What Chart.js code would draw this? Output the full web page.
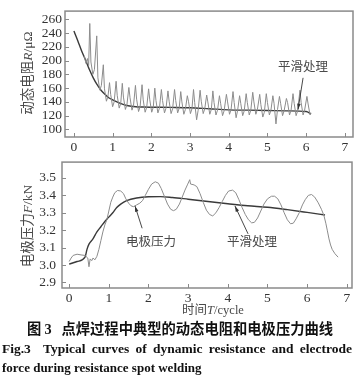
<!DOCTYPE html>
<html>
<head>
<meta charset="utf-8">
<script src="https://cdn.jsdelivr.net/npm/chart.js@4"></script>
<style>
body { margin:0; background:#fff; width:364px; height:383px; position:relative; overflow:hidden; }
canvas { position:absolute; left:0; }
.t { position:absolute; white-space:nowrap; color:#4a4a4a; font-family:"Noto Sans CJK SC"; line-height:1; }
.c { transform:translate(-50%,-50%); }
.rot { transform:translate(-50%,-50%) rotate(-90deg); }
.it { font-family:"Liberation Serif"; font-style:italic; }
.sf { font-family:"Liberation Serif"; }
.cap { position:absolute; white-space:nowrap; color:#111; line-height:1; font-weight:bold; }
</style>
</head>
<body>
<canvas id="resChart" width="364" height="158" style="top:0"></canvas>
<canvas id="forceChart" width="364" height="158" style="top:148px"></canvas>

<div class="t rot" style="left:27px;top:73px;font-size:13.5px">动态电阻<span class="it">R</span><span class="sf">/μΩ</span></div>
<div class="t rot" style="left:27px;top:226px;font-size:13.5px">电极压力<span class="it">F</span><span class="sf">/kN</span></div>
<div class="t c" style="left:213px;top:310px;font-size:12.5px">时间<span class="it">T</span><span class="sf">/cycle</span></div>

<div class="t c" style="left:303px;top:66px;font-size:12.5px">平滑处理</div>
<div class="t c" style="left:151px;top:241px;font-size:12.5px">电极压力</div>
<div class="t c" style="left:252px;top:241px;font-size:12.5px">平滑处理</div>

<div class="cap" style="left:27px;top:321px;font-size:14.3px;font-family:'Noto Sans CJK SC'">图 <span class="sf">3</span>&nbsp;&nbsp;&nbsp;点焊过程中典型的动态电阻和电极压力曲线</div>
<div class="cap" style="left:2px;top:342px;width:350px;font-size:13.5px;font-family:'Liberation Serif';text-align:justify;text-align-last:justify">Fig.3&nbsp; Typical curves of dynamic resistance and electrode</div>
<div class="cap" style="left:2px;top:361px;font-size:13px;font-family:'Liberation Serif'">force during resistance spot welding</div>

<script>
// ---- dynamic resistance (upper plot) ----
var resTicksX = [0, 1, 2, 3, 4, 5, 6, 7];
var resTicksY = [100, 120, 140, 160, 180, 200, 220, 240, 260];

// raw signal
var resRawT = [0.27, 0.31, 0.35, 0.38,
  0.41, 0.44, 0.49, 0.53,  0.59, 0.62, 0.67, 0.71,  0.76, 0.79, 0.84, 0.88,
  0.92, 0.95, 1.00, 1.04,  1.09, 1.12, 1.17, 1.21,  1.25, 1.28, 1.33, 1.37,
  1.42, 1.45, 1.50, 1.54,  1.59, 1.62, 1.67, 1.71,  1.76, 1.79, 1.84, 1.88,
  1.93, 1.96, 2.01, 2.05,  2.09, 2.12, 2.17, 2.21,  2.26, 2.29, 2.34, 2.38,
  2.43, 2.46, 2.51, 2.55,  2.60, 2.63, 2.68, 2.72,  2.76, 2.79, 2.84, 2.88,
  2.93, 2.96, 3.01, 3.05,  3.09, 3.12, 3.17, 3.21,  3.26, 3.29, 3.34, 3.38,
  3.43, 3.46, 3.51, 3.55,  3.59, 3.62, 3.67, 3.71,  3.76, 3.79, 3.84, 3.88,
  3.94, 3.97, 4.02, 4.06,  4.11, 4.14, 4.19, 4.23,  4.28, 4.31, 4.36, 4.40,
  4.45, 4.48, 4.53, 4.57,  4.62, 4.65, 4.70, 4.74,  4.80, 4.83, 4.88, 4.92,
  4.97, 5.00, 5.05, 5.09,  5.14, 5.17, 5.22, 5.26,  5.31, 5.34, 5.39, 5.43,
  5.49, 5.52, 5.57, 5.61,  5.66, 5.69, 5.74, 5.78,  5.84, 5.87, 5.92, 5.96,
  6.02, 6.05, 6.10, 6.13];
var resRawV = [207, 196, 203, 192,
  254, 198, 180, 187,  236, 175, 157, 164,  194, 159, 141, 148,
  168, 151, 133, 140,  170, 149, 131, 138,  167, 147, 129, 136,
  161, 146, 128, 135,  164, 144, 126, 133,  165, 143, 125, 132,
  159, 143, 125, 132,  160, 142, 124, 131,  158, 142, 124, 131,
  156, 141, 123, 130,  158, 142, 124, 131,  155, 140, 122, 129,
  149, 141, 123, 130,  158, 139, 114, 128,  157, 141, 123, 130,
  150, 140, 122, 129,  156, 139, 121, 128,  149, 138, 120, 127,
  151, 140, 122, 129,  155, 139, 117, 128,  149, 138, 120, 127,
  152, 139, 121, 128,  154, 140, 122, 129,  151, 136, 118, 125,
  152, 139, 121, 128,  149, 138, 108, 129,  148, 138, 120, 127,
  145, 139, 121, 128,  152, 138, 120, 127,  157, 139, 121, 128,
  148, 137, 121, 124];

// smoothed curve
var resSmoothT = [0, 0.1, 0.2, 0.3, 0.4, 0.5, 0.6, 0.7, 0.8, 0.9, 1.0, 1.2, 1.4, 1.6, 1.8, 2.0, 2.5, 3.0, 3.5, 4.0, 4.5, 5.0, 5.5, 6.0, 6.12];
var resSmoothV = [243, 229, 214, 201, 187, 175, 165, 157, 151, 146, 143, 138, 134.5, 133, 132.5, 132.3, 132, 131.5, 130, 128.5, 128, 127.5, 127, 126, 123];

// leader line of the label: [tail], [tip]
var resLeaders = [[[5.92, 175], [5.79, 129]]];

// ---- electrode force (lower plot) ----
var forceTicksX = [0, 1, 2, 3, 4, 5, 6, 7];
var forceTicksY = [2.9, 3.0, 3.1, 3.2, 3.3, 3.4, 3.5];
var forceTickLabels = ['2.9', '3.0', '3.1', '3.2', '3.3', '3.4', '3.5'];

var forceRawT = [0.00, 0.05, 0.10, 0.20, 0.30, 0.40, 0.47, 0.50, 0.53, 0.57, 0.60, 0.65,
  0.70, 0.75, 0.80, 0.85, 0.90, 0.95, 1.00, 1.05, 1.10, 1.15, 1.22, 1.30, 1.37, 1.43,
  1.50, 1.56, 1.62, 1.70, 1.78, 1.85, 1.92, 2.00, 2.08, 2.17, 2.25, 2.32, 2.40, 2.48,
  2.56, 2.63, 2.70, 2.78, 2.85, 2.92, 2.98, 3.04, 3.06, 3.15, 3.22, 3.30, 3.38, 3.46,
  3.54, 3.62, 3.70, 3.78, 3.86, 3.94, 4.02, 4.12, 4.20, 4.28, 4.36, 4.44, 4.52, 4.60,
  4.67, 4.75, 4.83, 4.91, 5.00, 5.10, 5.18, 5.26, 5.34, 5.42, 5.50, 5.58, 5.65, 5.72,
  5.80, 5.88, 5.95, 6.03, 6.11, 6.19, 6.28, 6.36, 6.42, 6.47, 6.51, 6.55, 6.59, 6.63,
  6.70, 6.78];
var forceRawV = [3.02, 3.04, 3.055, 3.062, 3.058, 3.055, 3.04, 2.99, 3.035, 3.025, 3.04, 3.03,
  3.05, 3.09, 3.14, 3.19, 3.23, 3.26, 3.31, 3.36, 3.39, 3.415, 3.428, 3.425, 3.41, 3.38,
  3.355, 3.34, 3.335, 3.345, 3.355, 3.37, 3.40, 3.435, 3.465, 3.478, 3.47, 3.44, 3.395, 3.35,
  3.32, 3.312, 3.32, 3.35, 3.39, 3.43, 3.46, 3.49, 3.465, 3.46, 3.45, 3.41, 3.36, 3.315,
  3.29, 3.282, 3.30, 3.33, 3.365, 3.40, 3.425, 3.43, 3.415, 3.375, 3.33, 3.29, 3.26, 3.242,
  3.245, 3.27, 3.31, 3.35, 3.38, 3.395, 3.395, 3.38, 3.345, 3.30, 3.26, 3.237, 3.24, 3.265,
  3.30, 3.345, 3.375, 3.40, 3.405, 3.39, 3.357, 3.32, 3.286, 3.24, 3.196, 3.15, 3.115, 3.09,
  3.065, 3.045];

var forceSmoothT = [0, 0.2, 0.4, 0.45, 0.5, 0.6, 0.7, 0.8, 0.9, 1.0, 1.1, 1.2, 1.3, 1.45, 1.7, 2.0, 2.3, 2.6, 3.0, 3.5, 4.0, 4.5, 5.0, 5.5, 6.0, 6.45];
var forceSmoothV = [3.005, 3.02, 3.045, 3.09, 3.12, 3.15, 3.19, 3.22, 3.25, 3.275, 3.30, 3.33, 3.35, 3.37, 3.385, 3.392, 3.393, 3.388, 3.378, 3.365, 3.352, 3.34, 3.332, 3.318, 3.302, 3.287];

var forceLeaders = [[[1.84, 3.211], [1.66, 3.339]], [[4.51, 3.179], [4.18, 3.339]]];

function pts(ts, vs) {
    return ts.map(function (t, i) { return { x: t, y: vs[i] }; });
}

// box, inward ticks and label arrows
function framePlugin(leaders) {
    return {
        id: 'frame',
        afterDatasetsDraw: function (chart) {
            var ctx = chart.ctx, a = chart.chartArea;
            var sx = chart.scales.x, sy = chart.scales.y;
            ctx.save();
            ctx.strokeStyle = '#8a8a8a';
            ctx.lineWidth = 1.5;
            ctx.strokeRect(a.left, a.top, a.right - a.left, a.bottom - a.top);
            ctx.lineWidth = 1;
            ctx.beginPath();
            sx.ticks.forEach(function (t) {
                var p = Math.round(sx.getPixelForValue(t.value)) + 0.5;
                ctx.moveTo(p, a.bottom); ctx.lineTo(p, a.bottom - 4);
            });
            sy.ticks.forEach(function (t) {
                var p = Math.round(sy.getPixelForValue(t.value)) + 0.5;
                ctx.moveTo(a.left, p); ctx.lineTo(a.left + 4, p);
            });
            ctx.stroke();

            ctx.strokeStyle = '#333';
            ctx.fillStyle = '#333';
            ctx.lineWidth = 0.9;
            leaders.forEach(function (l) {
                var x1 = sx.getPixelForValue(l[0][0]), y1 = sy.getPixelForValue(l[0][1]);
                var x2 = sx.getPixelForValue(l[1][0]), y2 = sy.getPixelForValue(l[1][1]);
                ctx.beginPath(); ctx.moveTo(x1, y1); ctx.lineTo(x2, y2); ctx.stroke();
                var ang = Math.atan2(y2 - y1, x2 - x1);
                ctx.beginPath();
                ctx.moveTo(x2, y2);
                ctx.lineTo(x2 - 6 * Math.cos(ang - 0.3), y2 - 6 * Math.sin(ang - 0.3));
                ctx.lineTo(x2 - 6 * Math.cos(ang + 0.3), y2 - 6 * Math.sin(ang + 0.3));
                ctx.closePath(); ctx.fill();
            });
            ctx.restore();
        }
    };
}

function makeChart(id, s) {
    var tickFont = { family: 'Liberation Serif', size: 13.5 };
    return new Chart(document.getElementById(id), {
        type: 'line',
        data: {
            datasets: [{
                data: pts(s.rawT, s.rawV),
                borderColor: '#8c8c8c', borderWidth: 1, pointRadius: 0, tension: 0
            }, {
                data: pts(s.smoothT, s.smoothV),
                borderColor: '#3a3a3a', borderWidth: 1.4, pointRadius: 0,
                cubicInterpolationMode: 'monotone'
            }]
        },
        options: {
            responsive: false,
            animation: false,
            events: [],
            layout: { padding: s.padding },
            plugins: { legend: { display: false }, tooltip: { enabled: false } },
            scales: {
                x: {
                    type: 'linear', min: s.xMin, max: s.xMax,
                    grid: { display: false, drawTicks: false },
                    border: { display: false },
                    afterBuildTicks: function (sc) { sc.ticks = s.ticksX.map(function (v) { return { value: v }; }); },
                    afterFit: function (sc) { sc.height = s.xAxisH; },
                    ticks: { padding: 2, color: '#333', font: tickFont, maxRotation: 0, autoSkip: false,
                             callback: function (v) { return String(v); } }
                },
                y: {
                    type: 'linear', min: s.yMin, max: s.yMax,
                    grid: { display: false, drawTicks: false },
                    border: { display: false },
                    afterBuildTicks: function (sc) { sc.ticks = s.ticksY.map(function (v) { return { value: v }; }); },
                    afterFit: function (sc) { sc.width = s.yAxisW; },
                    ticks: { padding: s.yPad, color: '#333', font: tickFont, autoSkip: false,
                             callback: function (v, i) { return s.labelsY ? s.labelsY[i] : String(v); } }
                }
            }
        },
        plugins: [framePlugin(s.leaders)]
    });
}

makeChart('resChart', {
    rawT: resRawT, rawV: resRawV, smoothT: resSmoothT, smoothV: resSmoothV,
    ticksX: resTicksX, ticksY: resTicksY, leaders: resLeaders,
    xMin: -0.23, xMax: 7.21, yMin: 89, yMax: 272,
    padding: { top: 5, right: 11, left: 0, bottom: 0 }, xAxisH: 21, yAxisW: 65, yPad: 3
});

makeChart('forceChart', {
    rawT: forceRawT, rawV: forceRawV, smoothT: forceSmoothT, smoothV: forceSmoothV,
    ticksX: forceTicksX, ticksY: forceTicksY, labelsY: forceTickLabels, leaders: forceLeaders,
    xMin: -0.18, xMax: 7.13, yMin: 2.868, yMax: 3.591,
    padding: { top: 5, right: 12, left: 0, bottom: 0 }, xAxisH: 18, yAxisW: 62, yPad: 6
});
</script>
</body>
</html>
